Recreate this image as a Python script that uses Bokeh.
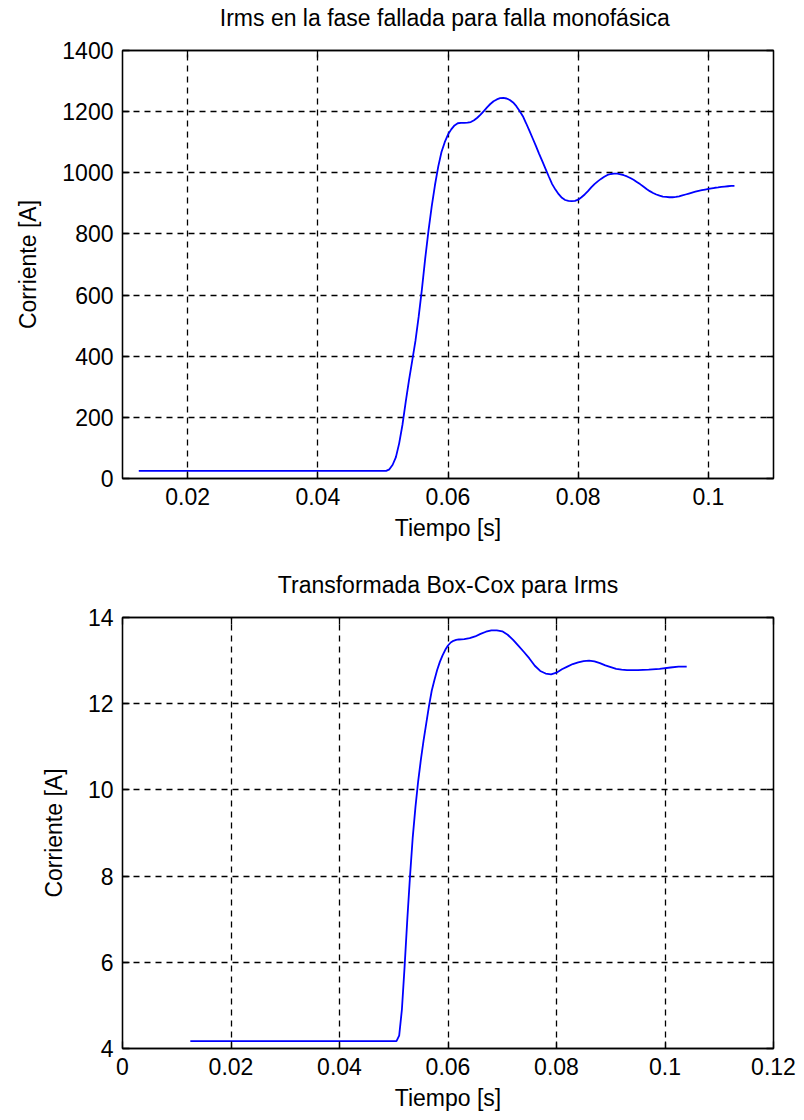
from bokeh.plotting import figure
from bokeh.layouts import column
from bokeh.models import LinearAxis, FixedTicker, Range1d, CustomJSTickFormatter
from bokeh.embed import file_html
from bokeh.resources import INLINE

# ---- data: top plot (Irms, A) ----
t_top = [0.0125, 0.0505, 0.0510, 0.0515, 0.0520, 0.0525, 0.0530, 0.0535, 0.0540, 0.0545,
         0.0550, 0.0555, 0.0560, 0.0565, 0.0570, 0.0575, 0.0580, 0.0585, 0.0590, 0.0595,
         0.0600, 0.0605, 0.0610, 0.0615, 0.0620, 0.0625, 0.0630, 0.0635, 0.0640, 0.0645,
         0.0650, 0.0655, 0.0660, 0.0665, 0.0670, 0.0675, 0.0680, 0.0685, 0.0690, 0.0695,
         0.0700, 0.0705, 0.0710, 0.0715, 0.0720, 0.0725, 0.0730, 0.0735, 0.0740, 0.0745,
         0.0750, 0.0755, 0.0760, 0.0765, 0.0770, 0.0775, 0.0780, 0.0785, 0.0790, 0.0795,
         0.0800, 0.0805, 0.0810, 0.0815, 0.0820, 0.0825, 0.0830, 0.0835, 0.0840, 0.0845,
         0.0850, 0.0855, 0.0860, 0.0865, 0.0870, 0.0875, 0.0880, 0.0885, 0.0890, 0.0895,
         0.0900, 0.0905, 0.0910, 0.0915, 0.0920, 0.0925, 0.0930, 0.0935, 0.0940, 0.0945,
         0.0950, 0.0955, 0.0960, 0.0965, 0.0970, 0.0975, 0.0980, 0.0985, 0.0990, 0.0995,
         0.1000, 0.1005, 0.1010, 0.1015, 0.1020, 0.1025, 0.1030, 0.1035, 0.1040]
irms = [25, 25, 30, 45, 70, 115, 175, 250, 320, 385,
        450, 530, 620, 720, 810, 890, 960, 1020, 1068, 1100,
        1125, 1142, 1155, 1162, 1163, 1163, 1164, 1166, 1172, 1180,
        1190, 1202, 1214, 1225, 1234, 1240, 1244, 1245, 1243, 1238,
        1230, 1218, 1202, 1185, 1162, 1138, 1113, 1088, 1062, 1037,
        1012, 987, 963, 945, 930, 918, 911, 908, 907, 908,
        912, 920, 929, 940, 952, 963, 972, 980, 987, 993,
        996, 997, 997, 995, 992, 988, 983, 977, 970, 963,
        955, 947, 940, 934, 929, 925, 922, 921, 920, 920,
        921, 923, 926, 929, 932, 935, 938, 941, 943, 945,
        947, 949, 951, 952, 954, 955, 956, 957, 957]

# ---- data: bottom plot (Box-Cox) ----
t_bot = [0.0125, 0.0505, 0.0510, 0.0515, 0.0520, 0.0525, 0.0530, 0.0535, 0.0540, 0.0545,
         0.0550, 0.0555, 0.0560, 0.0565, 0.0570, 0.0575, 0.0580, 0.0585, 0.0590, 0.0595,
         0.0600, 0.0605, 0.0610, 0.0615, 0.0620, 0.0630, 0.0640, 0.0650, 0.0660, 0.0670,
         0.0680, 0.0690, 0.0700, 0.0710, 0.0720, 0.0730, 0.0740, 0.0750, 0.0760, 0.0770,
         0.0780, 0.0790, 0.0800, 0.0810, 0.0820, 0.0830, 0.0840, 0.0850, 0.0860, 0.0870,
         0.0880, 0.0890, 0.0900, 0.0910, 0.0920, 0.0930, 0.0950, 0.0970, 0.0990, 0.1010,
         0.1025, 0.1040]
boxcox = [4.17, 4.17, 4.30, 4.9, 5.9, 7.0, 8.0, 8.9, 9.6, 10.2,
          10.7, 11.15, 11.55, 11.95, 12.3, 12.55, 12.78, 12.97, 13.12, 13.25,
          13.35, 13.42, 13.46, 13.48, 13.49, 13.50, 13.52, 13.56, 13.62, 13.67,
          13.70, 13.70, 13.68, 13.60, 13.48, 13.34, 13.20, 13.05, 12.88, 12.76,
          12.70, 12.68, 12.72, 12.80, 12.86, 12.92, 12.96, 12.99, 13.00, 12.98,
          12.94, 12.89, 12.85, 12.81, 12.79, 12.78, 12.78, 12.79, 12.81, 12.84,
          12.86, 12.86]

# ---- ticks ----
top_xticks = [0.02, 0.04, 0.06, 0.08, 0.1]
top_xlabels = ["0.02", "0.04", "0.06", "0.08", "0.1"]
top_yticks = [0, 200, 400, 600, 800, 1000, 1200, 1400]
bot_xticks = [0, 0.02, 0.04, 0.06, 0.08, 0.1, 0.12]
bot_xlabels = ["0", "0.02", "0.04", "0.06", "0.08", "0.1", "0.12"]
bot_yticks = [4, 6, 8, 10, 12, 14]

FONT = "Liberation Sans"
FS = "23px"


def make(title, xr, yr, xt, xl, yt, mt, mb):
    p = figure(width=804, height=560, output_backend="svg", toolbar_location=None,
               x_range=Range1d(*xr), y_range=Range1d(*yr),
               min_border_left=122, min_border_right=31,
               min_border_top=mt, min_border_bottom=mb,
               background_fill_color="white", border_fill_color="white")
    p.outline_line_color = "black"
    p.outline_line_width = 1.3

    labels = {v: s for v, s in zip(xt, xl)}
    for ax in p.xaxis:
        ax.ticker = FixedTicker(ticks=xt)
        ax.major_label_overrides = labels
        ax.axis_label = "Tiempo [s]"
        ax.axis_label_standoff = 7
    for ax in p.yaxis:
        ax.ticker = FixedTicker(ticks=yt)
        ax.axis_label = "Corriente [A]"
        ax.axis_label_standoff = 18
    for ax in list(p.xaxis) + list(p.yaxis):
        ax.major_label_text_font = FONT
        ax.major_label_text_font_size = FS
        ax.axis_label_text_font = FONT
        ax.axis_label_text_font_size = FS
        ax.axis_label_text_font_style = "normal"
        ax.major_tick_in = 7
        ax.major_tick_out = 0
        ax.minor_tick_in = 0
        ax.minor_tick_out = 0
        ax.major_label_standoff = 9
        ax.axis_line_color = "black"
        ax.axis_line_width = 1.3
        ax.major_tick_line_color = "black"
        ax.major_tick_line_width = 1.3
        ax.major_label_text_color = "black"
        ax.axis_label_text_color = "black"

    # top axis: inward ticks, no labels, carries the title text
    top_ax = LinearAxis(ticker=FixedTicker(ticks=xt), formatter=CustomJSTickFormatter(code="return '';"),
                        major_tick_in=7, major_tick_out=0, minor_tick_in=0, minor_tick_out=0,
                        major_label_standoff=0, axis_line_color="black",
                        major_tick_line_width=1.3, axis_line_width=1.3,
                        axis_label=title, axis_label_standoff=20,
                        axis_label_text_font=FONT, axis_label_text_font_size=FS,
                        axis_label_text_font_style="normal", axis_label_text_color="black")
    right_ax = LinearAxis(ticker=FixedTicker(ticks=yt), formatter=CustomJSTickFormatter(code="return '';"),
                          major_tick_in=7, major_tick_out=0, minor_tick_in=0, minor_tick_out=0,
                          major_label_standoff=0, axis_line_color="black",
                          major_tick_line_width=1.3, axis_line_width=1.3)
    p.add_layout(top_ax, "above")
    p.add_layout(right_ax, "right")

    p.xgrid.ticker = FixedTicker(ticks=xt)
    p.ygrid.ticker = FixedTicker(ticks=yt)
    for g in (p.xgrid, p.ygrid):
        g.grid_line_color = "black"
        g.grid_line_dash = "6 5"
        g.grid_line_width = 1.3
    return p


p1 = make("Irms en la fase fallada  para falla monofásica", (0.01, 0.11), (0, 1400),
          top_xticks, top_xlabels, top_yticks, 50, 82)
p1.line(t_top, irms, line_color="#0000ff", line_width=1.8)

p2 = make("Transformada Box-Cox para Irms", (0, 0.12), (4, 14),
          bot_xticks, bot_xlabels, bot_yticks, 57, 72)
p2.line(t_bot, boxcox, line_color="#0000ff", line_width=1.8)

layout = column(p1, p2, spacing=0)
open("out.html", "w").write(file_html(layout, INLINE))
